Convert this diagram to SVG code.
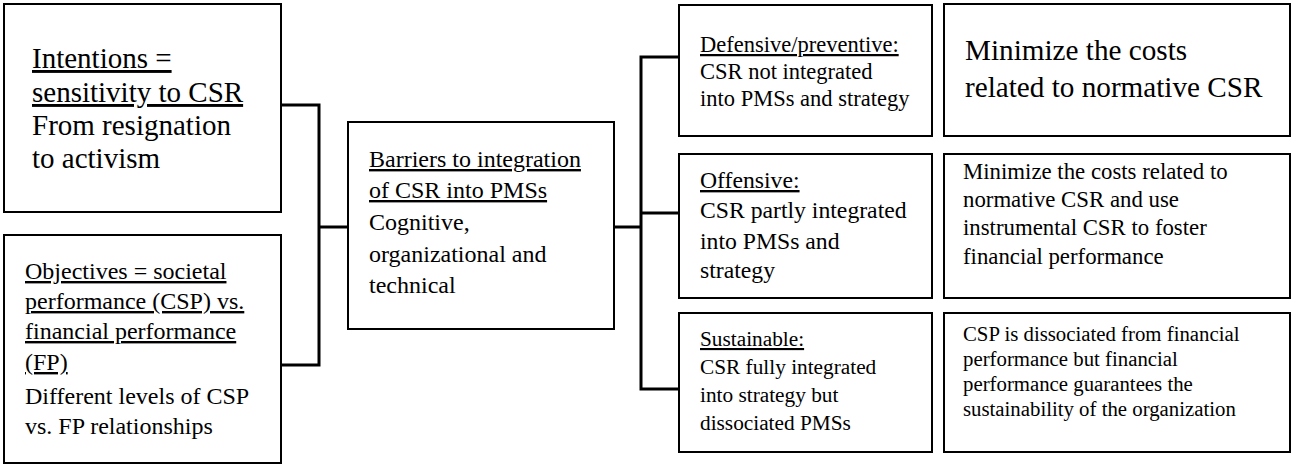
<svg xmlns="http://www.w3.org/2000/svg" width="1292" height="465" viewBox="0 0 1292 465">
<style>
.box{fill:#fff;stroke:#000;stroke-width:2}
.conn{fill:none;stroke:#000;stroke-width:3}
text{font-family:"Liberation Serif","Times New Roman",serif;fill:#000}
.u{text-decoration:underline}
</style>
<rect width="1292" height="465" fill="#fff"/>
<g id="connectors">
<polyline class="conn" points="281,105 319,105 319,365 281,365"/>
<line class="conn" x1="319" y1="227" x2="348" y2="227"/>
<line class="conn" x1="614" y1="227" x2="641" y2="227"/>
<polyline class="conn" points="679,57 641,57 641,389 679,389"/>
<line class="conn" x1="641" y1="213" x2="679" y2="213"/>
</g>
<g id="intentions">
<rect class="box" x="4" y="4" width="277" height="208"/>
<text font-size="29"><tspan class="u" x="32" y="68">Intentions =</tspan><tspan class="u" x="32" y="102">sensitivity to CSR</tspan><tspan x="32" y="135">From resignation</tspan><tspan x="32" y="168">to activism</tspan></text>
</g>
<g id="objectives">
<rect class="box" x="4" y="235" width="277" height="228"/>
<text font-size="24"><tspan class="u" x="25" y="279">Objectives = societal</tspan><tspan class="u" x="25" y="309">performance (CSP) vs.</tspan><tspan class="u" x="25" y="339">financial performance</tspan><tspan class="u" x="25" y="370">(FP)</tspan><tspan x="25" y="404">Different levels of CSP</tspan><tspan x="25" y="434">vs. FP relationships</tspan></text>
</g>
<g id="barriers">
<rect class="box" x="348" y="122" width="266" height="207"/>
<text font-size="24"><tspan class="u" x="369" y="167">Barriers to integration</tspan><tspan class="u" x="369" y="198">of CSR into PMSs</tspan><tspan x="369" y="230">Cognitive,</tspan><tspan x="369" y="262">organizational and</tspan><tspan x="369" y="293">technical</tspan></text>
</g>
<g id="defensive">
<rect class="box" x="679" y="5" width="253" height="131"/>
<text font-size="22.5"><tspan class="u" x="700" y="52">Defensive/preventive:</tspan><tspan x="700" y="79">CSR not integrated</tspan><tspan x="700" y="106">into PMSs and strategy</tspan></text>
</g>
<g id="offensive">
<rect class="box" x="679" y="154" width="253" height="144"/>
<text font-size="23.7"><tspan class="u" x="700" y="188">Offensive:</tspan><tspan x="700" y="218">CSR partly integrated</tspan><tspan x="700" y="249">into PMSs and</tspan><tspan x="700" y="278">strategy</tspan></text>
</g>
<g id="sustainable">
<rect class="box" x="679" y="313" width="253" height="139"/>
<text font-size="21.3"><tspan class="u" x="700" y="346">Sustainable:</tspan><tspan x="700" y="374">CSR fully integrated</tspan><tspan x="700" y="402">into strategy but</tspan><tspan x="700" y="430">dissociated PMSs</tspan></text>
</g>
<g id="outcome1">
<rect class="box" x="944" y="4" width="346" height="132"/>
<text font-size="29.2"><tspan x="965" y="60">Minimize the costs</tspan><tspan x="965" y="97">related to normative CSR</tspan></text>
</g>
<g id="outcome2">
<rect class="box" x="944" y="154" width="346" height="144"/>
<text font-size="22.8"><tspan x="963" y="179">Minimize the costs related to</tspan><tspan x="963" y="207">normative CSR and use</tspan><tspan x="963" y="235">instrumental CSR to foster</tspan><tspan x="963" y="264">financial performance</tspan></text>
</g>
<g id="outcome3">
<rect class="box" x="944" y="313" width="346" height="139"/>
<text font-size="20.8"><tspan x="963" y="341">CSP is dissociated from financial</tspan><tspan x="963" y="366">performance but financial</tspan><tspan x="963" y="391">performance guarantees the</tspan><tspan x="963" y="416">sustainability of the organization</tspan></text>
</g>
</svg>
